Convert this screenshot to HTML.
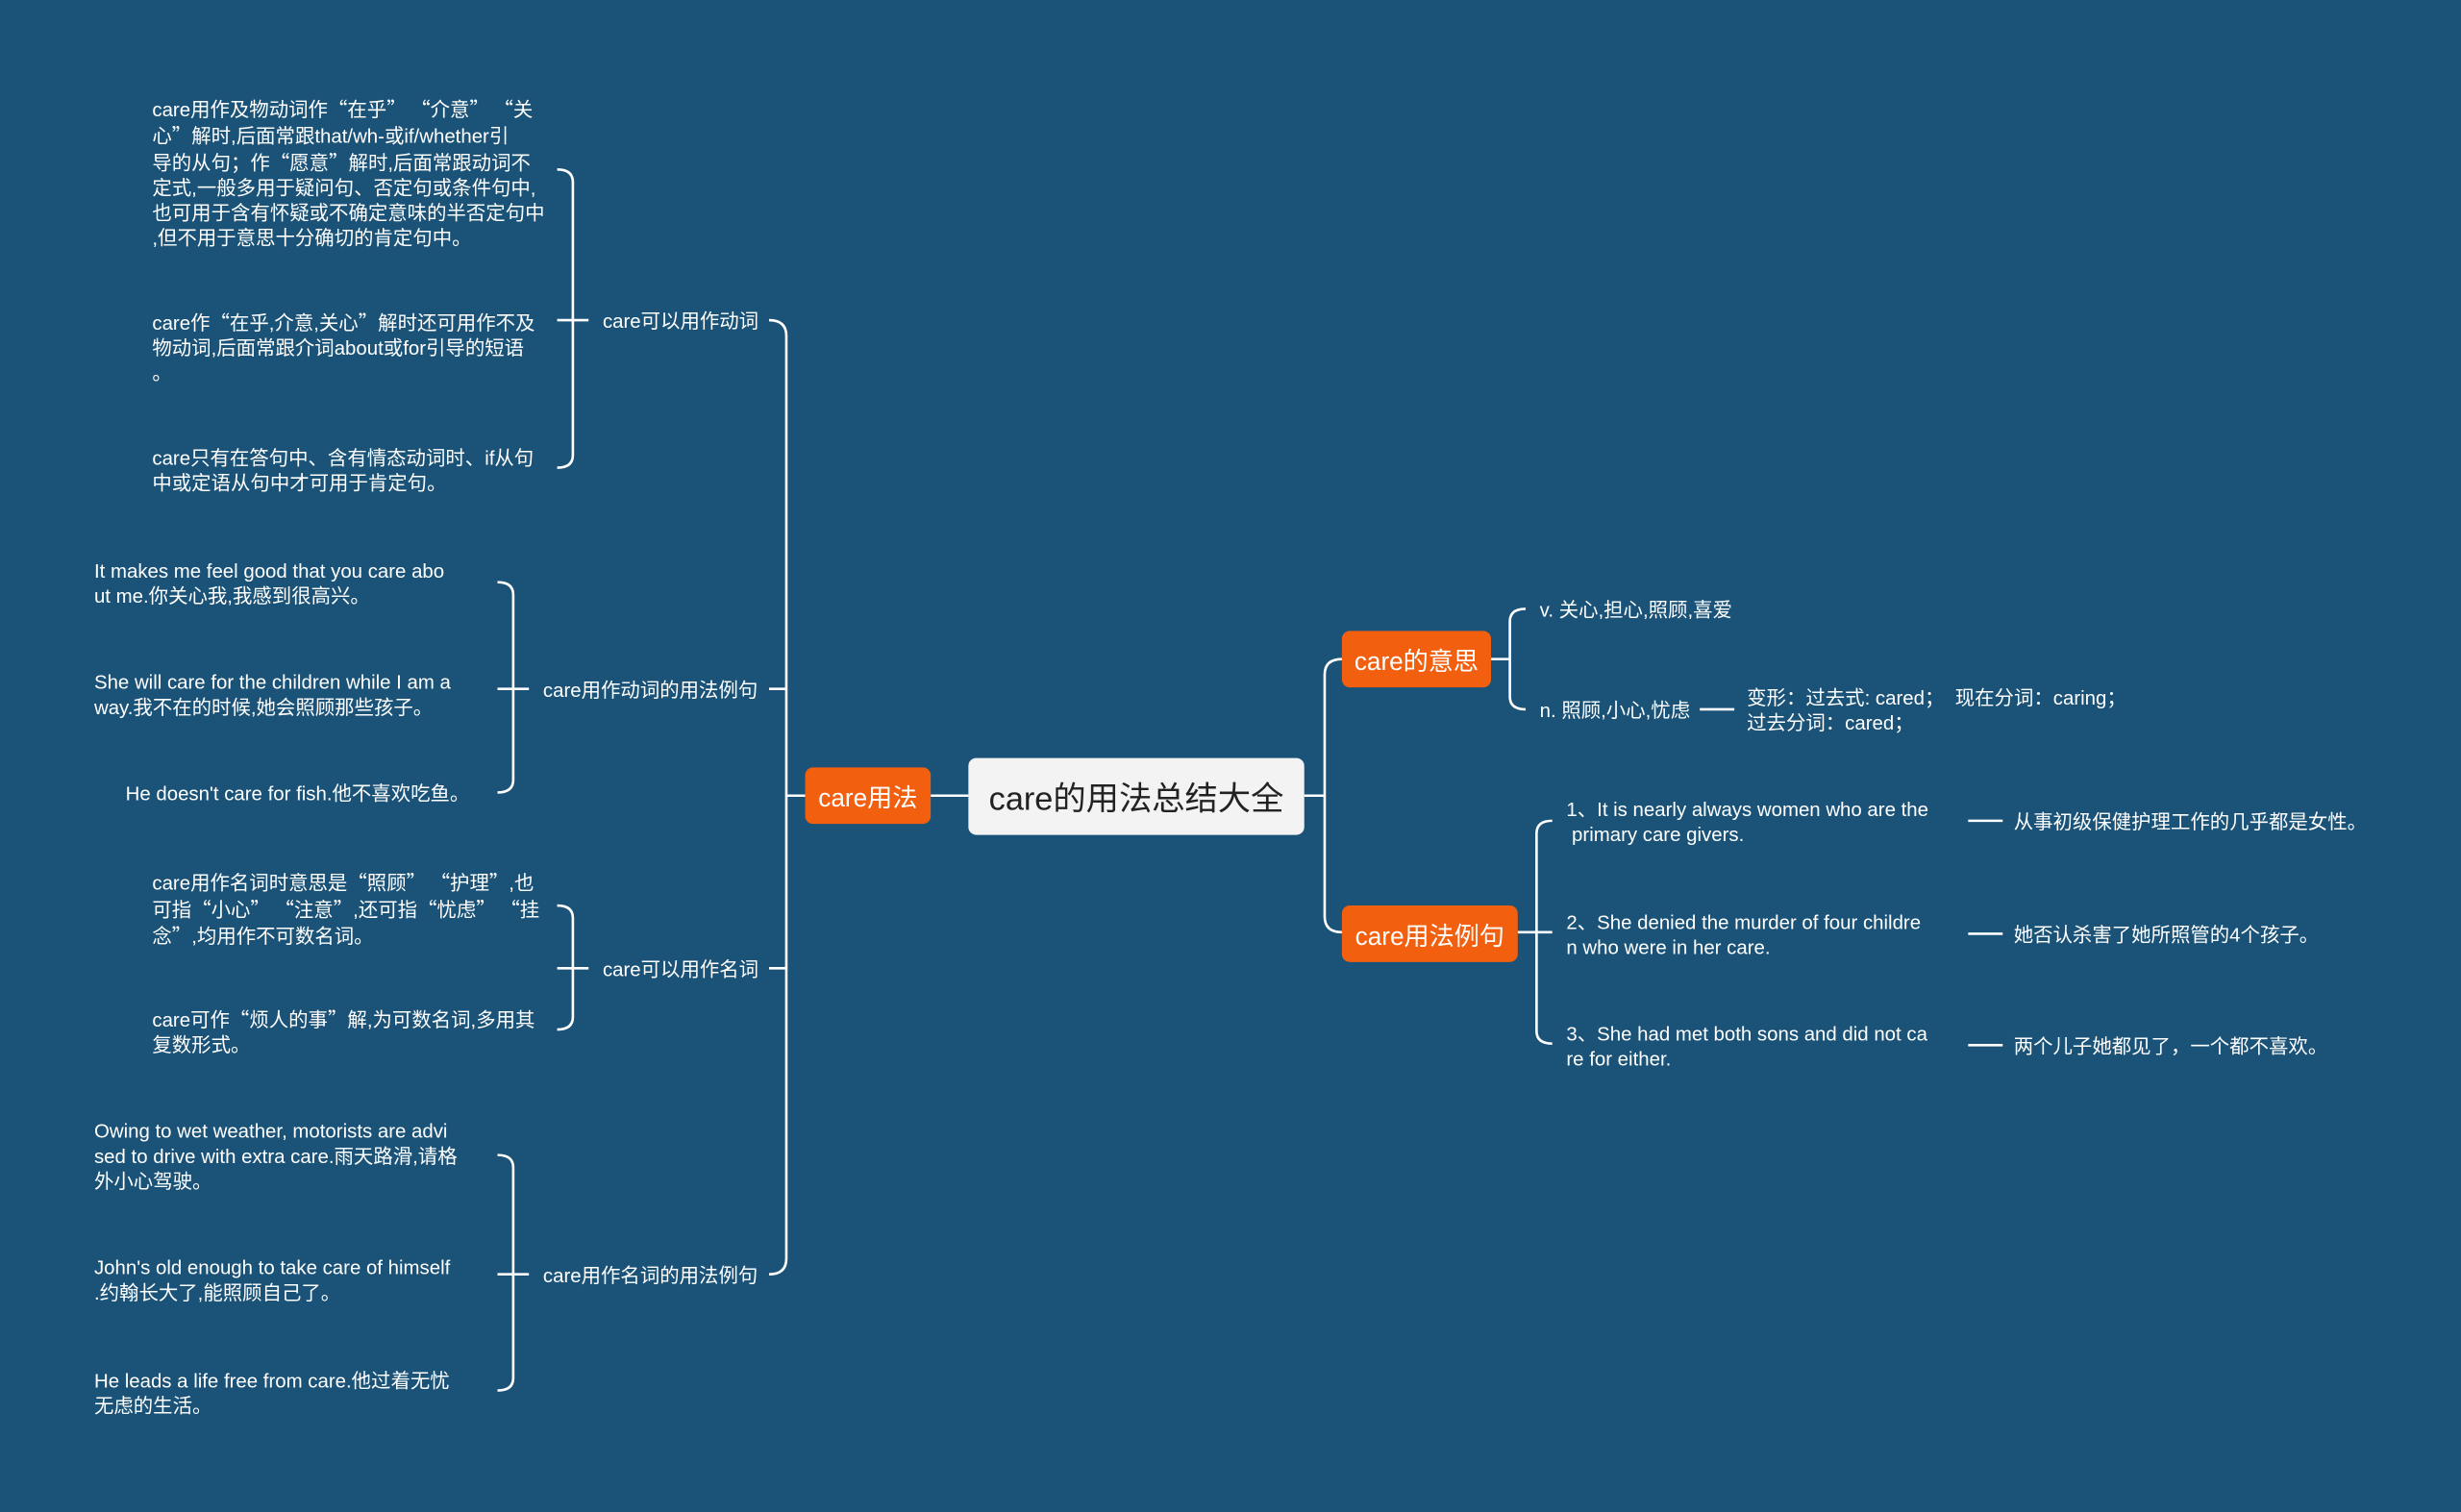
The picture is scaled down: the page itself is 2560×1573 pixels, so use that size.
<!DOCTYPE html>
<html><head><meta charset="utf-8"><style>
html,body{margin:0;padding:0;background:#1b5378;}
#wrap{width:1568px;height:963px;position:relative;transform:scale(1.63265);transform-origin:0 0;font-family:"Liberation Sans","Noto Sans CJK SC",sans-serif;color:#fff;}
.t{position:absolute;font-size:12.5px;line-height:16px;white-space:nowrap;}
.q{font-family:"Noto Sans CJK SC",sans-serif;}
.o{position:absolute;background:#f25f0e;border-radius:5px;color:#fff;font-size:16px;display:flex;align-items:center;justify-content:center;}
svg{position:absolute;left:0;top:0;}
</style></head><body><div id="wrap">
<svg width="1568" height="963" fill="none" stroke="#fff" stroke-width="1.6">
<path d="M490,204 Q501,204 501,214 L501,802 Q501,812 490,812 M490,439 L501,439 M490,617 L501,617 M501,507 L513,507 M593,507 L617,507"/>
<path d="M355,108 Q365,108 365,116 L365,290 Q365,298 355,298 M355,204 L375,204"/>
<path d="M317,371 Q327,371 327,379 L327,497 Q327,505 317,505 M317,439 L337,439"/>
<path d="M355,577 Q365,577 365,585 L365,648 Q365,656 355,656 M355,617 L375,617"/>
<path d="M317,736 Q327,736 327,744 L327,878 Q327,886 317,886 M317,812 L337,812"/>
<path d="M831,507 L844,507 M855,420 Q844,420 844,430 L844,584 Q844,594 855,594"/>
<path d="M972,388 Q962,388 962,396 L962,444 Q962,452 972,452 M950,420 L962,420"/>
<path d="M989,523 Q979,523 979,531 L979,657 Q979,665 989,665 M967,594 L989,594"/>
<path d="M1083,452 L1105,452 M1254,523 L1276,523 M1254,595 L1276,595 M1254,666 L1276,666"/>
</svg>
<div style="position:absolute;left:617px;top:483px;width:214px;height:49px;background:#f3f3f3;border-radius:5px;color:#222;font-size:21px;display:flex;align-items:center;justify-content:center;">care的用法总结大全</div>
<div class="o" style="left:513px;top:489px;width:80px;height:36px;">care用法</div>
<div class="o" style="left:855px;top:402px;width:95px;height:36px;">care的意思</div>
<div class="o" style="left:855px;top:577px;width:112px;height:36px;">care用法例句</div>

<div class="t" style="left:384px;top:197px;">care可以用作动词</div>
<div class="t" style="left:346px;top:432px;">care用作动词的用法例句</div>
<div class="t" style="left:384px;top:610px;">care可以用作名词</div>
<div class="t" style="left:346px;top:805px;">care用作名词的用法例句</div>

<div class="t" style="left:97px;top:61px;">care用作及物动词作<span class="q">“</span>在乎<span class="q">” “</span>介意<span class="q">” “</span>关<br>心<span class="q">”</span>解时,后面常跟that/wh-或if/whether引<br>导的从句；作<span class="q">“</span>愿意<span class="q">”</span>解时,后面常跟动词不<br>定式,一般多用于疑问句、否定句或条件句中,<br>也可用于含有怀疑或不确定意味的半否定句中<br>,但不用于意思十分确切的肯定句中。</div>
<div class="t" style="left:97px;top:197px;">care作<span class="q">“</span>在乎,介意,关心<span class="q">”</span>解时还可用作不及<br>物动词,后面常跟介词about或for引导的短语<br>。</div>
<div class="t" style="left:97px;top:284px;">care只有在答句中、含有情态动词时、if从句<br>中或定语从句中才可用于肯定句。</div>
<div class="t" style="left:60px;top:356px;">It makes me feel good that you care abo<br>ut me.你关心我,我感到很高兴。</div>
<div class="t" style="left:60px;top:427px;">She will care for the children while I am a<br>way.我不在的时候,她会照顾那些孩子。</div>
<div class="t" style="left:80px;top:498px;">He doesn't care for fish.他不喜欢吃鱼。</div>
<div class="t" style="left:97px;top:554px;">care用作名词时意思是<span class="q">“</span>照顾<span class="q">” “</span>护理<span class="q">”</span>,也<br>可指<span class="q">“</span>小心<span class="q">” “</span>注意<span class="q">”</span>,还可指<span class="q">“</span>忧虑<span class="q">” “</span>挂<br>念<span class="q">”</span>,均用作不可数名词。</div>
<div class="t" style="left:97px;top:641px;">care可作<span class="q">“</span>烦人的事<span class="q">”</span>解,为可数名词,多用其<br>复数形式。</div>
<div class="t" style="left:60px;top:713px;">Owing to wet weather, motorists are advi<br>sed to drive with extra care.雨天路滑,请格<br>外小心驾驶。</div>
<div class="t" style="left:60px;top:800px;">John's old enough to take care of himself<br>.约翰长大了,能照顾自己了。</div>
<div class="t" style="left:60px;top:872px;">He leads a life free from care.他过着无忧<br>无虑的生活。</div>

<div class="t" style="left:981px;top:381px;">v. 关心,担心,照顾,喜爱</div>
<div class="t" style="left:981px;top:445px;">n. 照顾,小心,忧虑</div>
<div class="t" style="left:1113px;top:437px;">变形：过去式: cared；&nbsp; 现在分词：caring；<br>过去分词：cared；</div>
<div class="t" style="left:998px;top:508px;">1、It is nearly always women who are the<br>&nbsp;primary care givers.</div>
<div class="t" style="left:998px;top:580px;">2、She denied the murder of four childre<br>n who were in her care.</div>
<div class="t" style="left:998px;top:651px;">3、She had met both sons and did not ca<br>re for either.</div>
<div class="t" style="left:1283px;top:516px;">从事初级保健护理工作的几乎都是女性。</div>
<div class="t" style="left:1283px;top:588px;">她否认杀害了她所照管的4个孩子。</div>
<div class="t" style="left:1283px;top:659px;">两个儿子她都见了，一个都不喜欢。</div>
</div></body></html>
